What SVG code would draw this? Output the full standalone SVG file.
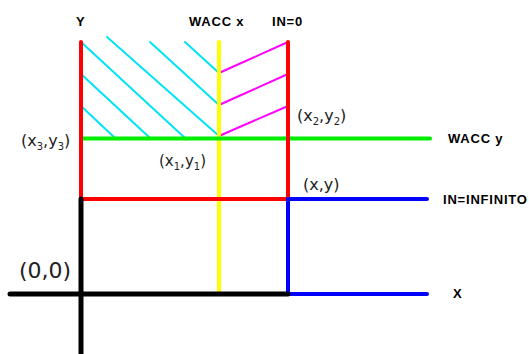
<svg xmlns="http://www.w3.org/2000/svg" width="529" height="354" viewBox="0 0 529 354">
<style>
.b{font-family:"Liberation Sans",Arial,sans-serif;font-weight:bold;font-size:13px;fill:#000;letter-spacing:0.8px}
.l{font-family:"DejaVu Sans",sans-serif;fill:#222;font-size:16px}
.s{font-size:10px}
line{stroke-linecap:round;fill:none}
.cy{stroke:#00e5f5;stroke-width:2}
.mg{stroke:#ff00ff;stroke-width:2}
</style>
<rect width="529" height="354" fill="#fff"/>
<g id="hatch">
<line class="cy" x1="81" y1="106" x2="115" y2="138"/>
<line class="cy" x1="81" y1="74" x2="150" y2="138"/>
<line class="cy" x1="81" y1="42" x2="185" y2="138"/>
<line class="cy" x1="107" y1="37" x2="219" y2="136"/>
<line class="cy" x1="150" y1="42" x2="219" y2="105"/>
<line class="cy" x1="185" y1="42" x2="219" y2="73"/>
<line class="mg" x1="219" y1="73" x2="288" y2="42"/>
<line class="mg" x1="219" y1="105" x2="288" y2="74"/>
<line class="mg" x1="219" y1="136" x2="288" y2="106"/>
</g>
<g id="lines">
<line x1="219" y1="42" x2="219" y2="294" stroke="#ffff00" stroke-width="4"/>
<line x1="82" y1="138.5" x2="430" y2="138.5" stroke="#00ee00" stroke-width="4"/>
<line x1="81" y1="42" x2="81" y2="199" stroke="#ff0000" stroke-width="4"/>
<line x1="288" y1="42" x2="288" y2="199" stroke="#ff0000" stroke-width="4"/>
<line x1="81" y1="199" x2="288" y2="199" stroke="#ff0000" stroke-width="4"/>
<line x1="288" y1="199" x2="427" y2="199" stroke="#0000ff" stroke-width="4"/>
<line x1="288" y1="199" x2="288" y2="294" stroke="#0000ff" stroke-width="4"/>
<line x1="288" y1="294" x2="427" y2="294" stroke="#0000ff" stroke-width="4"/>
<line x1="81" y1="199" x2="81" y2="356" stroke="#000" stroke-width="5"/>
<line x1="10" y1="294" x2="288" y2="294" stroke="#000" stroke-width="5"/>
</g>
<g id="labels">
<text class="b" x="76" y="26">Y</text>
<text class="b" x="189" y="26">WACC x</text>
<text class="b" x="272" y="26">IN=0</text>
<text class="b" x="448" y="143">WACC y</text>
<text class="b" x="443" y="204">IN=INFINITO</text>
<text class="b" x="453" y="298">X</text>
<text class="l" x="21" y="146">(x<tspan class="s" dy="4">3</tspan><tspan dy="-4">,y</tspan><tspan class="s" dy="4">3</tspan><tspan dy="-4">)</tspan></text>
<text class="l" x="159" y="166" style="font-size:15px">(x<tspan class="s" dy="4">1</tspan><tspan dy="-4">,y</tspan><tspan class="s" dy="4">1</tspan><tspan dy="-4">)</tspan></text>
<text class="l" x="297" y="121">(x<tspan class="s" dy="4">2</tspan><tspan dy="-4">,y</tspan><tspan class="s" dy="4">2</tspan><tspan dy="-4">)</tspan></text>
<text class="l" x="303" y="190">(x,y)</text>
<text class="l" x="19" y="278" style="font-size:22px">(0,0)</text>
</g>
</svg>
